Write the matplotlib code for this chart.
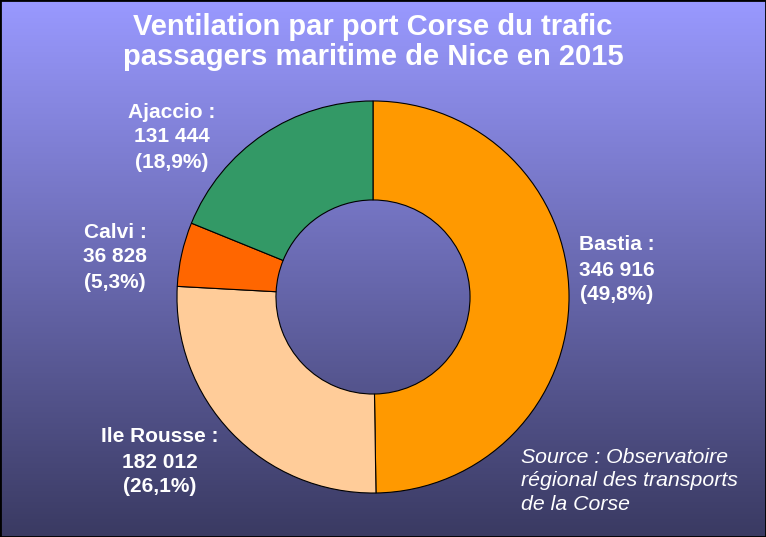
import numpy as np
import matplotlib.pyplot as plt

plt.rcParams['font.family'] = ['Liberation Sans', 'DejaVu Sans']

ports = ["Bastia", "Ile Rousse", "Calvi", "Ajaccio"]
passengers = [346916, 182012, 36828, 131444]
shares = ["49,8%", "26,1%", "5,3%", "18,9%"]
colors = ["#FF9900", "#FFCC99", "#FF6600", "#339966"]

W, H = 766, 537
fig = plt.figure(figsize=(W / 100, H / 100), dpi=100)

# gradient background
bg = fig.add_axes([0, 0, 1, 1])
top = np.array([153, 153, 255]) / 255
bot = np.array([58, 58, 98]) / 255
t = np.linspace(0, 1, 256)[:, None]
grad = top * (1 - t) + bot * t
bg.imshow(grad[:, None, :], aspect='auto', extent=[0, 1, 0, 1])
bg.set_xlim(0, 1)
bg.set_ylim(0, 1)
bg.axis('off')
bg.add_patch(plt.Rectangle((0, 0), 1, 1, fill=False, edgecolor='black', lw=2,
                           transform=bg.transAxes))

cx, cy, r = 373, 297, 197
ax = fig.add_axes([(cx - r) / W, (H - cy - r) / H, 2 * r / W, 2 * r / H])
ax.pie(passengers, colors=colors, startangle=90, counterclock=False,
       wedgeprops=dict(width=0.505, edgecolor='black', linewidth=0.8))
ax.set_xlim(-1.005, 1.005)
ax.set_ylim(-1.005, 1.005)
ax.set_aspect('equal')

label_pos = [(617, 270), (160, 462), (115, 257), (172, 137)]
for name, val, sh, (x, y) in zip(ports, passengers, shares, label_pos):
    txt = f"{name} :\n{val:,}".replace(",", " ") + f"\n({sh})"
    fig.text(x / W, 1 - y / H, txt, ha='center', va='center', color='white',
             fontsize=15, fontweight='bold', linespacing=1.4)

fig.text(0.487, 1 - 42 / H, "Ventilation par port Corse du trafic\npassagers maritime de Nice en 2015",
         ha='center', va='center', color='white', fontsize=21, fontweight='bold',
         linespacing=1.1)

fig.text(521 / W, 1 - 481 / H, "Source : Observatoire\nrégional des transports\nde la Corse",
         ha='left', va='center', color='white', fontsize=15.3, style='italic',
         linespacing=1.3)

fig.savefig("out.png", dpi=100)
